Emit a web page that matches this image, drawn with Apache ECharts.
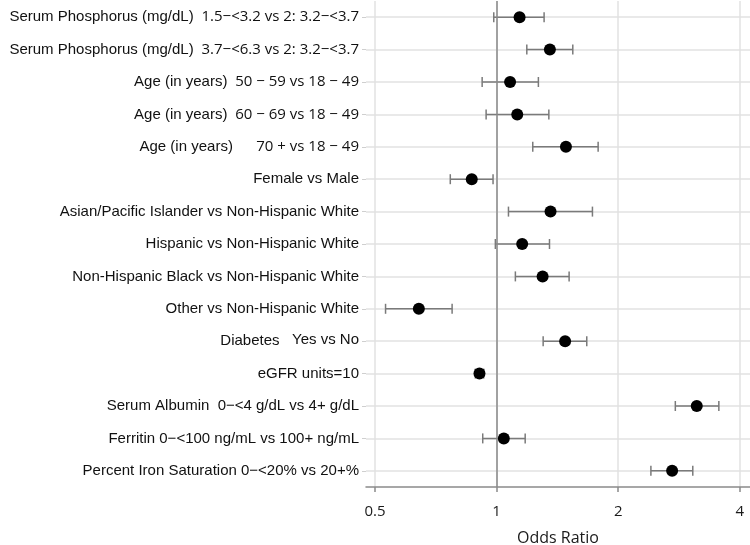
<!DOCTYPE html>
<html><head><meta charset="utf-8">
<script src="https://cdn.jsdelivr.net/npm/echarts@6/dist/echarts.min.js"></script>
<style>html,body{margin:0;padding:0;background:#fff}#c{width:750px;height:545px}</style>
</head><body><div id="c"></div>
<script>
const groups = [
  'Serum Phosphorus (mg/dL)',
  'Serum Phosphorus (mg/dL)',
  'Age (in years)',
  'Age (in years)',
  'Age (in years)',
  'Female vs Male',
  'Asian/Pacific Islander vs Non-Hispanic White',
  'Hispanic vs Non-Hispanic White',
  'Non-Hispanic Black vs Non-Hispanic White',
  'Other vs Non-Hispanic White',
  'Diabetes',
  'eGFR units=10',
  'Serum Albumin',
  'Ferritin 0\u2212<100 ng/mL vs 100+ ng/mL',
  'Percent Iron Saturation 0\u2212<20% vs 20+%'
];
const levels = [
  '1.5\u2212<3.2 vs 2: 3.2\u2212<3.7',
  '3.7\u2212<6.3 vs 2: 3.2\u2212<3.7',
  '50 \u2212 59 vs 18 \u2212 49',
  '60 \u2212 69 vs 18 \u2212 49',
  '    70 + vs 18 \u2212 49',
  '', '', '', '', '',
  ' Yes vs No',
  '',
  '0\u2212<4 g/dL vs 4+ g/dL',
  '', ''
];
const oddsRatio = [1.14, 1.355, 1.08, 1.125, 1.485, 0.868, 1.36, 1.157, 1.30, 0.642, 1.478, 0.907, 3.13, 1.042, 2.72];
const ciLower   = [0.984, 1.188, 0.921, 0.942, 1.229, 0.768, 1.07, 0.993, 1.113, 0.531, 1.304, 0.886, 2.77, 0.924, 2.41];
const ciUpper   = [1.311, 1.544, 1.269, 1.347, 1.784, 0.98, 1.727, 1.352, 1.512, 0.776, 1.672, 0.929, 3.55, 1.177, 3.06];
const xTicks = [0.5, 1, 2, 4];
const rowIdx = groups.map((_, i) => i);

const chart = echarts.init(document.getElementById('c'), null, {renderer: 'canvas'});
chart.setOption({
  animation: false,
  grid: {left: 366, right: 0, top: 1, bottom: 58, containLabel: false, outerBoundsMode: 'none'},
  xAxis: {
    type: 'log', logBase: 2, min: 0.475, max: 4.24, position: 'bottom',
    axisLine: {show: true, onZero: false, lineStyle: {color: '#8a8a8a', width: 1.5}},
    axisTick: {show: true, customValues: xTicks, length: 5, lineStyle: {color: '#8a8a8a', width: 1.5}},
    axisLabel: {customValues: xTicks, margin: 17, fontFamily: 'Open Sans', fontSize: 15, color: '#1a1a1a',
      formatter: v => String(Number(Number(v).toPrecision(6)))},
    splitLine: {show: true, lineStyle: {color: '#e2e2e2', width: 1.5}},
    name: 'Odds Ratio', nameLocation: 'middle', nameGap: 43,
    nameTextStyle: {fontFamily: 'Open Sans', fontSize: 16, color: '#1a1a1a'}
  },
  yAxis: {
    type: 'value', inverse: true, min: -0.5, max: 14.5,
    axisLine: {show: false, onZero: false},
    axisTick: {show: true, customValues: rowIdx, length: 4, lineStyle: {color: '#cfcfcf', width: 1}},
    axisLabel: {
      customValues: rowIdx, margin: 7,
      formatter: v => {
        const i = Math.round(v);
        const g = '{a|' + groups[i] + '}';
        if (!levels[i]) return g;
        const st = i < 5 ? 'b' : (i === 10 ? 'c' : 'a');
        return g + '{' + st + '|  ' + levels[i] + '}';
      },
      rich: {
        a: {fontFamily: 'Liberation Sans', fontSize: 15, color: '#111'},
        b: {fontFamily: 'Open Sans', fontSize: 15, color: '#111'},
        c: {fontFamily: 'Liberation Sans', fontSize: 15, color: '#111', padding: [0, 0, 2, 0]}
      }
    },
    splitLine: {show: true, lineStyle: {color: '#e2e2e2', width: 1.5}}
  },
  series: [
    {
      type: 'custom',
      data: rowIdx.map(i => [ciLower[i], ciUpper[i], i]),
      encode: {x: [0, 1], y: 2},
      renderItem: (params, api) => {
        const y = api.value(2);
        const p1 = api.coord([api.value(0), y]);
        const p2 = api.coord([api.value(1), y]);
        const h = 5;
        const style = {stroke: '#7a7a7a', lineWidth: 1.5};
        return {type: 'group', children: [
          {type: 'line', shape: {x1: p1[0], y1: p1[1], x2: p2[0], y2: p2[1]}, style},
          {type: 'line', shape: {x1: p1[0], y1: p1[1] - h, x2: p1[0], y2: p1[1] + h}, style},
          {type: 'line', shape: {x1: p2[0], y1: p2[1] - h, x2: p2[0], y2: p2[1] + h}, style}
        ]};
      }
    },
    {
      type: 'scatter',
      data: rowIdx.map(i => [oddsRatio[i], i]),
      symbolSize: 12,
      itemStyle: {color: '#000', opacity: 1},
      markLine: {
        silent: true, symbol: 'none', label: {show: false},
        lineStyle: {color: '#8a8a8a', width: 1.5, type: 'solid'},
        data: [{xAxis: 1}]
      }
    }
  ]
});
</script>
</body></html>
